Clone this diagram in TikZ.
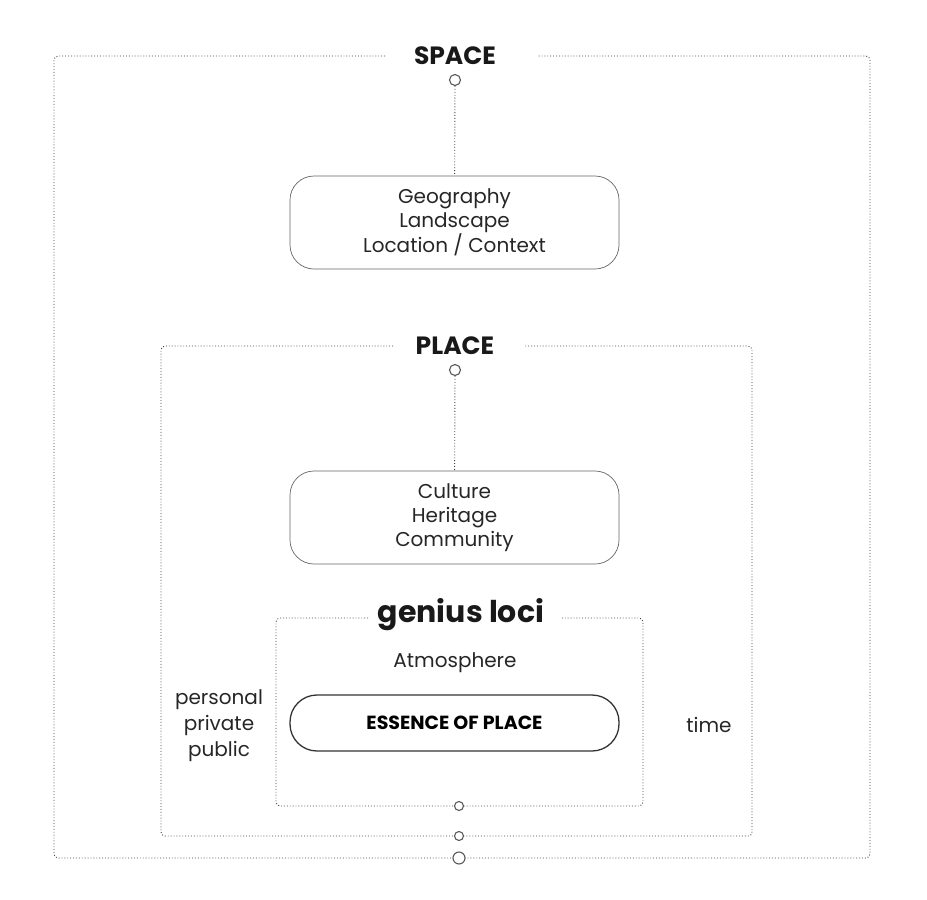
\documentclass[tikz,border=0pt]{standalone}
\usepackage{fontspec}
\setmainfont{Poppins}
\begin{document}
\begin{tikzpicture}[x=1pt,y=-1pt,
  frame/.style={draw=black!75, dotted, line width=0.9pt, rounded corners=4pt},
  conn/.style={draw=black!75, dotted, line width=0.9pt},
  boxx/.style={draw=black!60, line width=0.7pt, rounded corners=24pt},
  dot/.style={circle, draw=black!65, fill=white, line width=1.1pt, inner sep=0pt, minimum size=#1},
  ttl/.style={font=\bfseries\fontsize{25}{28}\selectfont, text=black!90},
  txt/.style={font=\fontsize{20}{26}\selectfont, text=black!85, align=center}]
\useasboundingbox (0,0) rectangle (927,900);
% outer frame
\draw[frame] (385,56) -- (54,56) -- (54,858) -- (870,858) -- (870,56) -- (537,56);
\node[ttl] (space) at (455,56) {SPACE};
\node[dot=11pt] (c1) at (455,80) {};
\node[boxx, minimum width=329pt, minimum height=93pt, txt] (b1) at (454.5,222.5) {\raisebox{-2pt}{\begin{tabular}{@{}c@{}}Geography\\[-2pt]Landscape\\[-2pt]Location / Context\end{tabular}}};
\draw[conn] (c1) -- (b1);
% place frame
\draw[frame] (393,346) -- (161,346) -- (161,836) -- (752,836) -- (752,346) -- (525,346);
\node[ttl] (place) at (455,346) {PLACE};
\node[dot=11pt] (c2) at (455,370) {};
\node[boxx, minimum width=329pt, minimum height=93pt, txt] (b2) at (454.5,517.5) {\raisebox{-2pt}{\begin{tabular}{@{}c@{}}Culture\\[-2pt]Heritage\\[-2pt]Community\end{tabular}}};
\draw[conn] (c2) -- (b2);
% genius loci frame
\draw[frame] (368,618) -- (276,618) -- (276,806) -- (643,806) -- (643,618) -- (560,618);
\node[font=\bfseries\fontsize{30}{32}\selectfont, text=black!90] (gl) at (461,615) {genius loci};
\node[txt] (atm) at (455,663) {Atmosphere};
\node[draw=black!80, line width=1.3pt, rounded corners=27pt, minimum width=329pt, minimum height=56pt, font=\bfseries\fontsize{19}{22}\selectfont] (ess) at (454.5,723) {ESSENCE OF PLACE};
\node[txt] (ppp) at (219,726) {personal\\private\\public};
\node[txt] (time) at (709,725) {time};
\node[dot=9pt] (d1) at (459,806) {};
\node[dot=9pt] (d2) at (459,836) {};
\node[dot=12pt] (d3) at (459,858) {};
\end{tikzpicture}
\end{document}
